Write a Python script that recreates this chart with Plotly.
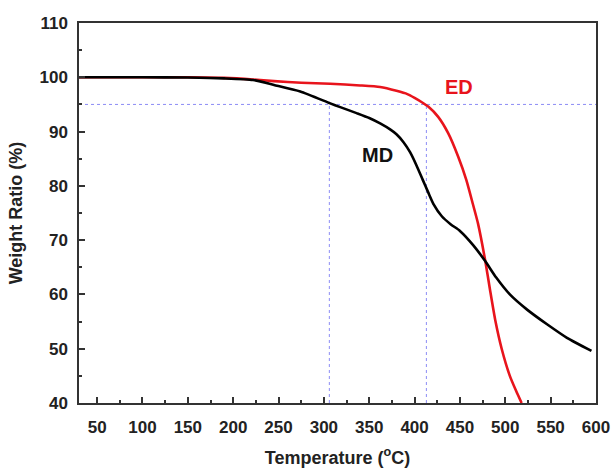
import plotly.graph_objects as go

# Temperature (°C) and weight ratio (%)
md_temp = [30, 100, 150, 190, 222, 245, 274, 307, 318, 336, 350, 362, 373, 380, 388, 395, 402,
           409, 415, 421, 430, 440, 450, 465, 478, 490, 505, 524, 546, 568, 595]
md_weight = [100, 100, 99.95, 99.8, 99.5, 98.6, 97.4, 95.2, 94.5, 93.4, 92.5, 91.5, 90.4, 89.5,
             88.0, 86.2, 83.8, 81.1, 78.8, 76.6, 74.4, 72.9, 71.7, 69.0, 66.1, 63.1, 60.0, 57.2,
             54.5, 52.0, 49.6]

ed_temp = [30, 100, 150, 190, 222, 245, 275, 307, 340, 362, 380, 392, 400, 408, 415, 426, 437,
           448, 457, 464, 470, 478, 483, 489, 496, 505, 512, 518]
ed_weight = [100, 100, 100, 99.9, 99.6, 99.3, 99.0, 98.8, 98.5, 98.2, 97.5, 96.9, 96.2, 95.4,
             94.6, 92.7, 89.7, 85.4, 81.1, 76.8, 73.0, 66.1, 61.0, 55.2, 50.0, 45.0, 42.2, 40.0]

ref_weight = 95          # 5 % weight loss level
t5_md = 306              # T at 5 % loss, MD
t5_ed = 413              # T at 5 % loss, ED
x_range = [30, 600]
y_range = [40, 110]
x_ticks = list(range(50, 601, 50))
y_ticks = list(range(40, 111, 10))

labels = [("MD", 359, 85.7, "#111111"), ("ED", 449, 98.3, "#e8141c")]

FONT = "Liberation Sans, Arial, sans-serif"
ref_color = "#8c8cf5"

fig = go.Figure()

# reference dotted lines
fig.add_trace(go.Scatter(x=x_range, y=[ref_weight, ref_weight], mode="lines",
                         line=dict(color=ref_color, width=1, dash="dot"),
                         showlegend=False, hoverinfo="skip"))
for t in (t5_md, t5_ed):
    fig.add_trace(go.Scatter(x=[t, t], y=[y_range[0], ref_weight], mode="lines",
                             line=dict(color=ref_color, width=1, dash="dot"),
                             showlegend=False, hoverinfo="skip"))

fig.add_trace(go.Scatter(x=ed_temp, y=ed_weight, mode="lines", name="ED",
                         line=dict(color="#e8141c", width=2.6, shape="spline", smoothing=0.6),
                         showlegend=False))
fig.add_trace(go.Scatter(x=md_temp, y=md_weight, mode="lines", name="MD",
                         line=dict(color="#000000", width=2.6, shape="spline", smoothing=0.6),
                         showlegend=False))

for txt, x, y, c in labels:
    fig.add_annotation(x=x, y=y, text=txt, showarrow=False,
                       font=dict(family=FONT, size=20, color=c, weight="bold"))

axis_common = dict(showline=True, linecolor="#333333", linewidth=1.5, mirror=True,
                   ticks="inside", ticklen=6, tickwidth=1.5, tickcolor="#333333",
                   showgrid=False, zeroline=False, automargin=False,
                   tickfont=dict(family=FONT, size=17, color="#222222", weight="bold"))

fig.update_xaxes(range=x_range, tickvals=x_ticks,
                 minor=dict(ticks="inside", ticklen=3.5, tickwidth=1.5, dtick=25,
                            tick0=25, tickcolor="#333333"),
                 ticklabelstandoff=8,
                 title=dict(text="Temperature (<sup>o</sup>C)", standoff=16,
                            font=dict(family=FONT, size=18, color="#222222", weight="bold")),
                 **axis_common)
fig.update_yaxes(range=y_range, tickvals=y_ticks,
                 minor=dict(ticks="inside", ticklen=3.5, tickwidth=1.5, dtick=5,
                            tick0=0, tickcolor="#333333"),
                 ticklabelstandoff=6,
                 title=dict(text="Weight Ratio (%)", standoff=12,
                            font=dict(family=FONT, size=18, color="#222222", weight="bold")),
                 **axis_common)

fig.update_layout(width=613, height=468, plot_bgcolor="white", paper_bgcolor="white",
                  margin=dict(l=79, r=17, t=23, b=65))

fig.write_html("out.html")
